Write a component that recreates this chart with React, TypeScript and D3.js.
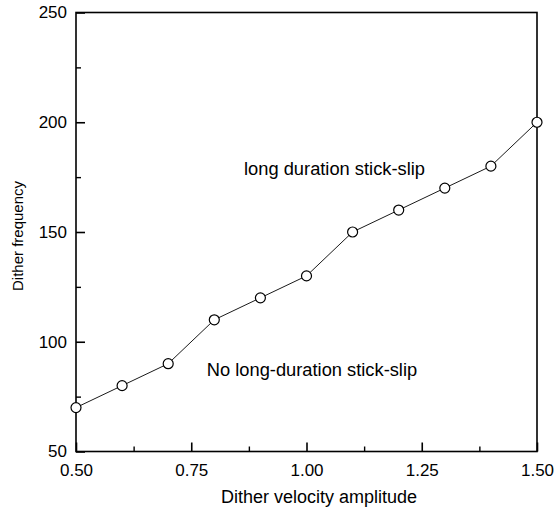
import { useRef, useEffect } from "react";
import * as d3 from "d3";

const amplitude = [0.5, 0.6, 0.7, 0.8, 0.9, 1.0, 1.1, 1.2, 1.3, 1.4, 1.5];
const frequency = [70, 80, 90, 110, 120, 130, 150, 160, 170, 180, 200];
const xTicks = [0.5, 0.75, 1.0, 1.25, 1.5];
const xMinor = [0.625, 0.875, 1.125, 1.375];
const yTicks = [50, 100, 150, 200, 250];
const yMinor = [75, 125, 175, 225];

function App() {
  const svgRef = useRef<SVGSVGElement>(null);

  useEffect(() => {
    const w = 555;
    const h = 510;
    const left = 76;
    const right = 537;
    const top = 12.5;
    const bottom = 451.5;
    const font = "Arial, 'Liberation Sans', sans-serif";

    const svg = d3.select(svgRef.current).attr("width", w).attr("height", h);
    svg.selectAll("*").remove();

    const x = d3.scaleLinear().domain([0.5, 1.5]).range([left, right]);
    const y = d3.scaleLinear().domain([50, 250]).range([bottom, top]);

    // frame
    svg
      .append("rect")
      .attr("x", left)
      .attr("y", top)
      .attr("width", right - left)
      .attr("height", bottom - top)
      .attr("fill", "none")
      .attr("stroke", "#000")
      .attr("stroke-width", 1.6);

    // inward ticks
    const xAxis = d3
      .axisBottom(x)
      .tickValues(xTicks)
      .tickSize(-9)
      .tickFormat(d3.format(".2f"));
    const gx = svg.append("g").attr("transform", `translate(0, ${bottom})`).call(xAxis);
    gx.select(".domain").remove();
    gx.selectAll("line").attr("stroke-width", 1.6);
    gx.selectAll("text")
      .attr("y", 24.5)
      .attr("dy", null)
      .attr("font-size", 17)
      .attr("font-family", font)
      .attr("fill", "#000");

    const gxm = svg
      .append("g")
      .attr("transform", `translate(0, ${bottom})`)
      .call(d3.axisBottom(x).tickValues(xMinor).tickSize(-5).tickFormat(() => ""));
    gxm.select(".domain").remove();
    gxm.selectAll("line").attr("stroke-width", 1.4);

    const yAxis = d3.axisLeft(y).tickValues(yTicks).tickSize(-9).tickPadding(9);
    const gy = svg.append("g").attr("transform", `translate(${left}, 0)`).call(yAxis);
    gy.select(".domain").remove();
    gy.selectAll("line").attr("stroke-width", 1.6);
    gy.selectAll("text").attr("font-size", 17).attr("font-family", font).attr("fill", "#000");

    const gym = svg
      .append("g")
      .attr("transform", `translate(${left}, 0)`)
      .call(d3.axisLeft(y).tickValues(yMinor).tickSize(-5).tickFormat(() => ""));
    gym.select(".domain").remove();
    gym.selectAll("line").attr("stroke-width", 1.4);

    // line + markers
    const pts = amplitude.map((a, i) => [a, frequency[i]] as [number, number]);
    const line = d3
      .line<[number, number]>()
      .x((d) => x(d[0]))
      .y((d) => y(d[1]));
    svg
      .append("path")
      .datum(pts)
      .attr("d", line)
      .attr("fill", "none")
      .attr("stroke", "#000")
      .attr("stroke-width", 0.9);

    svg
      .selectAll(".pt")
      .data(pts)
      .join("circle")
      .attr("cx", (d) => x(d[0]))
      .attr("cy", (d) => y(d[1]))
      .attr("r", 5)
      .attr("fill", "#fff")
      .attr("stroke", "#000")
      .attr("stroke-width", 1.2);

    // region labels
    svg
      .append("text")
      .attr("x", 334.5)
      .attr("y", 175)
      .attr("text-anchor", "middle")
      .attr("font-size", 18.3)
      .attr("font-family", font)
      .text("long duration stick-slip");
    svg
      .append("text")
      .attr("x", 312)
      .attr("y", 376)
      .attr("text-anchor", "middle")
      .attr("font-size", 18.3)
      .attr("font-family", font)
      .text("No long-duration stick-slip");

    // axis titles
    svg
      .append("text")
      .attr("x", 319)
      .attr("y", 503)
      .attr("text-anchor", "middle")
      .attr("font-size", 18)
      .attr("font-family", font)
      .text("Dither velocity amplitude");
    svg
      .append("text")
      .attr("transform", `translate(23, 236) rotate(-90)`)
      .attr("text-anchor", "middle")
      .attr("font-size", 15)
      .attr("font-family", font)
      .text("Dither frequency");
  }, []);

  return (
    <div style={{ position: "absolute", left: 0, top: 0 }}>
      <svg ref={svgRef} style={{ display: "block", background: "#fff" }}></svg>
    </div>
  );
}

export default App;
